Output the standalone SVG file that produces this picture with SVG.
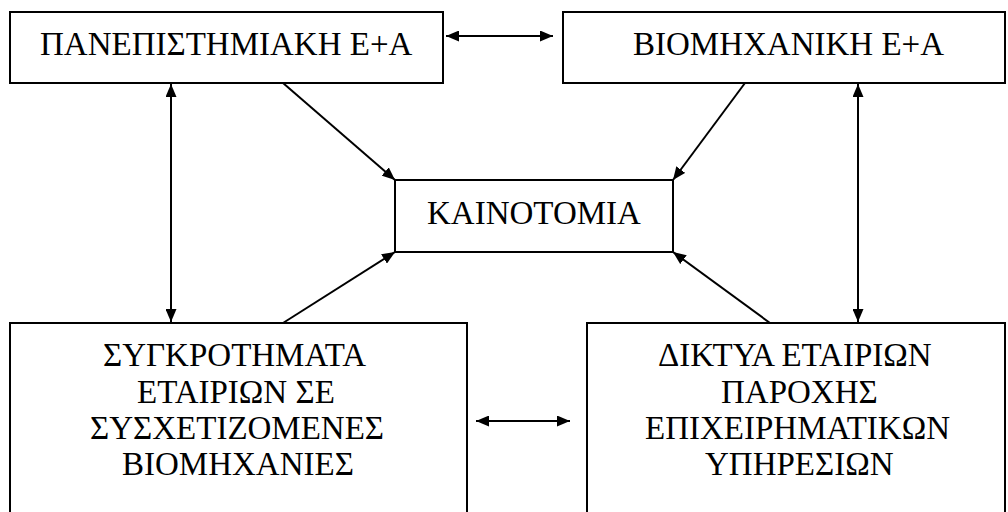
<svg xmlns="http://www.w3.org/2000/svg" width="1008" height="512" viewBox="0 0 1008 512">
<style>
.box{fill:#fff;stroke:#000;stroke-width:2}
.c{stroke:#000;stroke-width:2;fill:none}
</style>
<defs>
<marker id="ah" viewBox="0 0 13 11" refX="13" refY="5.5" markerWidth="13" markerHeight="11" markerUnits="userSpaceOnUse" orient="auto-start-reverse">
<path d="M0,0 L13,5.5 L0,11 Z" fill="#000"/>
</marker>
</defs>
<rect width="1008" height="512" fill="#fff"/>
<g id="n1"><rect class="box" x="10" y="12" width="433" height="71"/><text font-family="Liberation Serif" font-size="33" x="40" y="55">ΠΑΝΕΠΙΣΤΗΜΙΑΚΗ Ε+Α</text></g>
<g id="n2"><rect class="box" x="563" y="12" width="442" height="71"/><text font-family="Liberation Serif" font-size="33" x="633" y="55">ΒΙΟΜΗΧΑΝΙΚΗ Ε+Α</text></g>
<g id="n3"><rect class="box" x="395" y="180" width="278" height="72"/><text font-family="Liberation Serif" font-size="33" x="427" y="224">ΚΑΙΝΟΤΟΜΙΑ</text></g>
<g id="n4"><rect class="box" x="10" y="323" width="457" height="200"/>
<text font-family="Liberation Serif" font-size="33" x="103" y="366">ΣΥΓΚΡΟΤΗΜΑΤΑ</text>
<text font-family="Liberation Serif" font-size="33" x="137" y="403">ΕΤΑΙΡΙΩΝ ΣΕ</text>
<text font-family="Liberation Serif" font-size="33" x="90" y="439">ΣΥΣΧΕΤΙΖΟΜΕΝΕΣ</text>
<text font-family="Liberation Serif" font-size="33" x="122" y="475">ΒΙΟΜΗΧΑΝΙΕΣ</text></g>
<g id="n5"><rect class="box" x="587" y="323" width="418" height="200"/>
<text font-family="Liberation Serif" font-size="33" x="658" y="366">ΔΙΚΤΥΑ ΕΤΑΙΡΙΩΝ</text>
<text font-family="Liberation Serif" font-size="33" x="721" y="403">ΠΑΡΟΧΗΣ</text>
<text font-family="Liberation Serif" font-size="33" x="645" y="439">ΕΠΙΧΕΙΡΗΜΑΤΙΚΩΝ</text>
<text font-family="Liberation Serif" font-size="33" x="705" y="475">ΥΠΗΡΕΣΙΩΝ</text></g>
<g id="connectors">
<line class="c" x1="446" y1="36" x2="553" y2="36" marker-start="url(#ah)" marker-end="url(#ah)"/>
<line class="c" x1="476" y1="421" x2="570" y2="421" marker-start="url(#ah)" marker-end="url(#ah)"/>
<line class="c" x1="171" y1="84" x2="171" y2="322" marker-start="url(#ah)" marker-end="url(#ah)"/>
<line class="c" x1="858" y1="84" x2="858" y2="322" marker-start="url(#ah)" marker-end="url(#ah)"/>
<line class="c" x1="283" y1="83" x2="395" y2="180" marker-end="url(#ah)"/>
<line class="c" x1="745" y1="83" x2="673" y2="180" marker-end="url(#ah)"/>
<line class="c" x1="283" y1="323" x2="395" y2="252" marker-end="url(#ah)"/>
<line class="c" x1="770" y1="323" x2="673" y2="252" marker-end="url(#ah)"/>
</g>
</svg>
